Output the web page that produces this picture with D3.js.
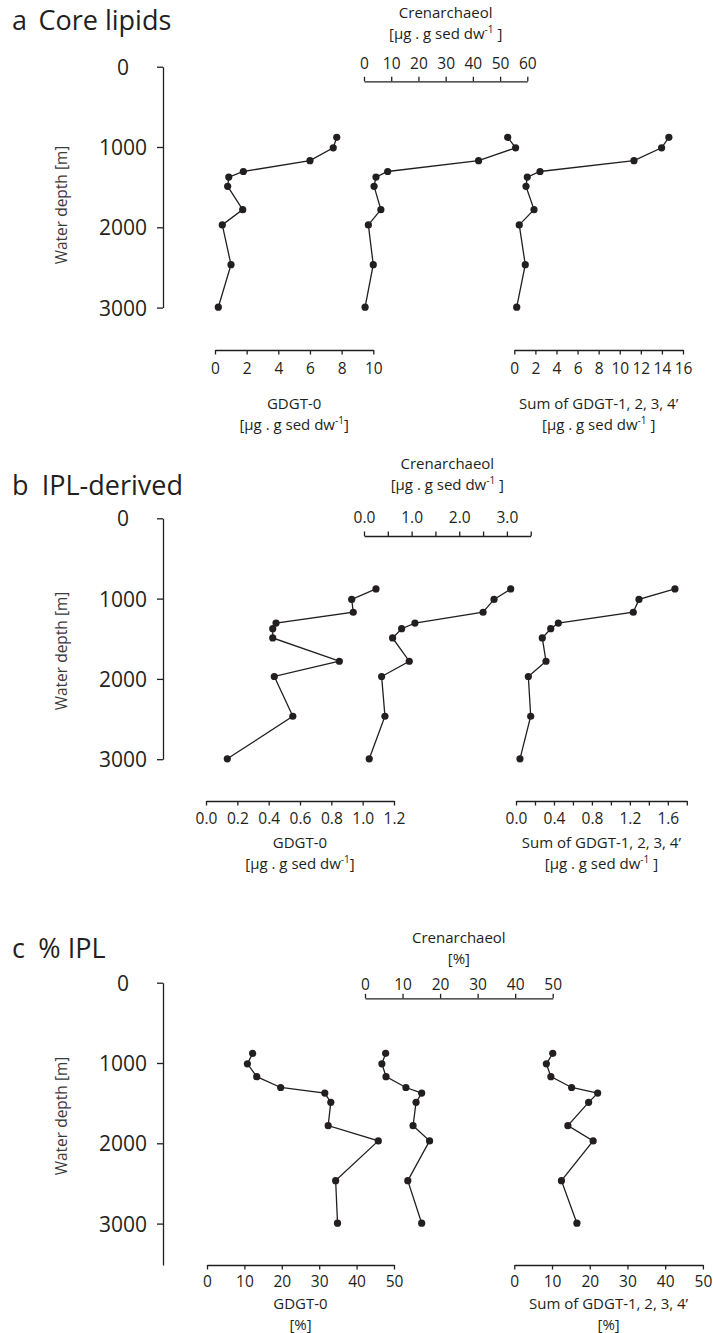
<!DOCTYPE html>
<html>
<head>
<meta charset="utf-8">
<script src="https://cdn.jsdelivr.net/npm/d3@7"></script>
<style>
  body { margin: 0; background: #fff; }
  svg { display: block; font-family: "Open Sans", sans-serif; }
</style>
</head>
<body>
<svg id="chart" width="713" height="1333"></svg>
<script>
// sample depths (m), shared by every profile
const depth = [880, 1010, 1170, 1305, 1375, 1490, 1780, 1970, 2465, 2995];
const depthTicks = [0, 1000, 2000, 3000];

// a  core lipids, ug per g sed dw
const coreGdgt0 = [7.69, 7.47, 6.00, 1.79, 0.87, 0.80, 1.75, 0.46, 1.01, 0.21];
const coreCren = [52.8, 55.7, 42.1, 8.7, 4.4, 3.7, 6.2, 1.6, 3.4, 0.4];
const coreSum = [14.66, 13.97, 11.35, 2.44, 1.23, 1.11, 1.87, 0.47, 1.04, 0.23];
const coreGdgt0Ticks = [0, 2, 4, 6, 8, 10];
const coreCrenTicks = [0, 10, 20, 30, 40, 50, 60];
const coreSumTicks = [0, 2, 4, 6, 8, 10, 12, 14, 16];

// b  IPL-derived, ug per g sed dw
const iplGdgt0 = [1.085, 0.93, 0.94, 0.447, 0.426, 0.426, 0.851, 0.436, 0.554, 0.136];
const iplCren = [3.08, 2.73, 2.50, 1.07, 0.79, 0.60, 0.95, 0.37, 0.44, 0.11];
const iplSum = [1.675, 1.296, 1.236, 0.446, 0.366, 0.277, 0.316, 0.130, 0.155, 0.042];
const iplGdgt0Ticks = [0, 0.2, 0.4, 0.6, 0.8, 1.0, 1.2];
const iplCrenTicks = [0, 0.5, 1.0, 1.5, 2.0, 2.5, 3.0, 3.5];
const iplCrenLabels = [0, 1.0, 2.0, 3.0];
const iplSumTicks = [0, 0.2, 0.4, 0.6, 0.8, 1.0, 1.2, 1.4, 1.6, 1.8];
const iplSumLabels = [0, 0.4, 0.8, 1.2, 1.6];

// c  % IPL
const pctGdgt0 = [12.2, 10.8, 13.3, 19.7, 31.5, 33.1, 32.4, 45.8, 34.4, 34.9];
const pctCren = [5.5, 4.5, 5.6, 10.9, 15.1, 13.6, 12.8, 17.2, 11.4, 15.1];
const pctSum = [10.2, 8.5, 9.7, 15.2, 22.1, 19.7, 14.2, 20.9, 12.5, 16.6];
const pctTicks = [0, 10, 20, 30, 40, 50];

const ink = "#231f20";
const svg = d3.select("#chart");
const pxPerM = 0.0803;
const depthAxisX = 163;

const intFmt = d3.format("d");
const oneDec = d3.format(".1f");
const only = labels => d => labels.includes(d) ? oneDec(d) : "";

const ug = { kind: "ug", spaced: false };
const ugSp = { kind: "ug", spaced: true };
const pct = { kind: "pct" };

const panels = [
  {
    letter: "a", name: "Core lipids", nameX: 38.5, titleY: 29.5, top: 66.7, depthEnd: 3000, wdY: 205,
    series: [
      { name: "GDGT-0", values: coreGdgt0, domain: [0, 10], range: [215, 373.3], ticks: coreGdgt0Ticks, fmt: intFmt,
        side: "bottom", axisY: 350, labelY: 374, titleYs: [409, 430], units: ug },
      { name: "Crenarchaeol", values: coreCren, domain: [0, 60], range: [364, 527.3], ticks: coreCrenTicks, fmt: intFmt,
        side: "top", axisY: 81.3, labelY: 69, titleYs: [18, 39], units: ugSp },
      { name: "Sum of GDGT-1, 2, 3, 4’", values: coreSum, domain: [0, 16], range: [514.3, 683], ticks: coreSumTicks, fmt: intFmt,
        side: "bottom", axisY: 350, labelY: 374, titleYs: [409, 430], units: ugSp }
    ]
  },
  {
    letter: "b", name: "IPL-derived", nameX: 41.7, titleY: 495, top: 518.3, depthEnd: 3000, wdY: 651,
    series: [
      { name: "GDGT-0", values: iplGdgt0, domain: [0, 1.2], range: [206, 394], ticks: iplGdgt0Ticks, fmt: oneDec,
        side: "bottom", axisY: 801, labelY: 824, titleYs: [848, 869], units: ug },
      { name: "Crenarchaeol", values: iplCren, domain: [0, 3.5], range: [364, 530.7], ticks: iplCrenTicks, fmt: only(iplCrenLabels),
        side: "top", axisY: 536, labelY: 523, titleYs: [469, 490], units: ugSp },
      { name: "Sum of GDGT-1, 2, 3, 4’", values: iplSum, domain: [0, 1.8], range: [516, 686.8], ticks: iplSumTicks, fmt: only(iplSumLabels),
        side: "bottom", axisY: 801, labelY: 824, titleYs: [848, 869], units: ugSp }
    ]
  },
  {
    letter: "c", name: "% IPL", nameX: 38.3, titleY: 958.3, top: 982.7, depthEnd: 3515, wdY: 1116,
    series: [
      { name: "GDGT-0", values: pctGdgt0, domain: [0, 50], range: [207, 394], ticks: pctTicks, fmt: intFmt,
        side: "bottom", axisY: 1265, labelY: 1287, titleYs: [1309, 1330], units: pct },
      { name: "Crenarchaeol", values: pctCren, domain: [0, 50], range: [365, 552.7], ticks: pctTicks, fmt: intFmt,
        side: "top", axisY: 998.3, labelY: 990, titleYs: [943, 964], units: pct },
      { name: "Sum of GDGT-1, 2, 3, 4’", values: pctSum, domain: [0, 50], range: [514.3, 702.9], ticks: pctTicks, fmt: intFmt,
        side: "bottom", axisY: 1265, labelY: 1287, titleYs: [1309, 1330], units: pct }
    ]
  }
];

function unitsText(sel, units) {
  if (units.kind === "pct") {
    sel.text("[%]");
    return;
  }
  sel.append("tspan").text("[μg . g sed dw");
  sel.append("tspan").attr("dy", -6).attr("font-size", 10).text("-1");
  sel.append("tspan").attr("dy", 6).text(units.spaced ? " ]" : "]");
}

panels.forEach(function(p) {
  const g = svg.append("g");

  g.append("text").attr("x", 12).attr("y", p.titleY)
    .attr("font-size", 27).attr("fill", ink).text(p.letter);
  g.append("text").attr("x", p.nameX).attr("y", p.titleY)
    .attr("font-size", 27).attr("fill", ink).text(p.name);

  const y = d3.scaleLinear()
    .domain([0, p.depthEnd])
    .range([p.top, p.top + p.depthEnd * pxPerM]);

  const ya = g.append("g")
    .attr("transform", `translate(${depthAxisX},0)`)
    .call(d3.axisLeft(y).tickValues(depthTicks).tickFormat(intFmt).tickSize(6).tickSizeOuter(0))
    .attr("font-family", null).attr("font-size", 21);
  ya.select(".domain").attr("stroke", ink).attr("stroke-width", 1.3);
  ya.selectAll(".tick line").attr("stroke", ink).attr("stroke-width", 1.3);
  ya.selectAll(".tick text").attr("x", -40).attr("dy", "0.36em")
    .attr("text-anchor", "middle").attr("fill", ink);

  g.append("text")
    .attr("transform", `translate(67,${p.wdY}) rotate(-90)`)
    .attr("text-anchor", "middle").attr("font-size", 15.5).attr("fill", "#3a3a3a")
    .text("Water depth [m]");

  p.series.forEach(function(s) {
    const x = d3.scaleLinear().domain(s.domain).range(s.range);
    const axis = (s.side === "top" ? d3.axisTop(x) : d3.axisBottom(x))
      .tickValues(s.ticks).tickFormat(s.fmt).tickSize(4.5).tickSizeOuter(0);

    const xa = g.append("g")
      .attr("transform", `translate(0,${s.axisY})`)
      .call(axis)
      .attr("font-family", null).attr("font-size", 15.5);
    xa.select(".domain").attr("stroke", ink).attr("stroke-width", 1.3);
    xa.selectAll(".tick line").attr("stroke", ink).attr("stroke-width", 1.3);
    xa.selectAll(".tick text").attr("y", s.labelY - s.axisY).attr("dy", 0).attr("fill", ink);

    const cx = (s.range[0] + s.range[1]) / 2;
    g.append("text").attr("x", cx).attr("y", s.titleYs[0])
      .attr("text-anchor", "middle").attr("font-size", 15).attr("fill", ink)
      .text(s.name);
    g.append("text").attr("x", cx).attr("y", s.titleYs[1])
      .attr("text-anchor", "middle").attr("font-size", 15).attr("fill", ink)
      .call(unitsText, s.units);

    const line = d3.line()
      .x(d => x(d))
      .y((d, i) => y(depth[i]));

    g.append("path")
      .datum(s.values)
      .attr("fill", "none")
      .attr("stroke", ink)
      .attr("stroke-width", 1.3)
      .attr("d", line);

    g.selectAll(null)
      .data(s.values)
      .enter()
      .append("circle")
      .attr("cx", d => x(d))
      .attr("cy", (d, i) => y(depth[i]))
      .attr("r", 3.6)
      .attr("fill", ink);
  });
});
</script>
</body>
</html>
